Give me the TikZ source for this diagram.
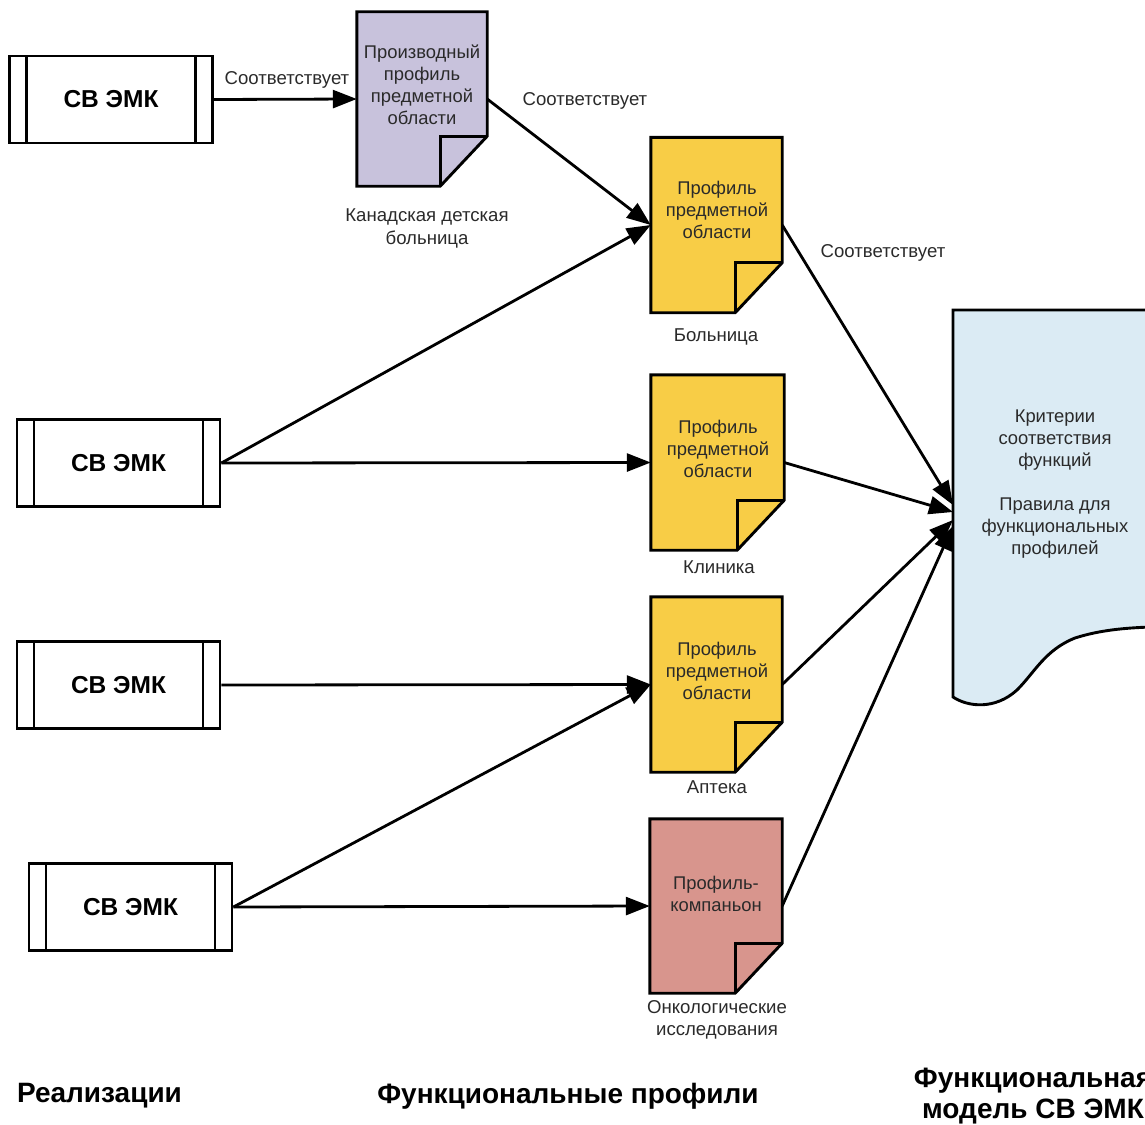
\documentclass[tikz,border=0pt]{standalone}
\usepackage{fontspec}
\setmainfont{Liberation Sans}
\usetikzlibrary{arrows.meta,calc}
\definecolor{docpurple}{HTML}{C8C2DC}
\definecolor{docyellow}{HTML}{F8CD46}
\definecolor{docpink}{HTML}{D8958D}
\definecolor{docblue}{HTML}{DBEBF4}
\definecolor{txtgray}{HTML}{2A2A2A}
\newcommand{\drawdoc}[2]{%
  \draw[docline,fill=#2] (#1.north west) -- (#1.north east) -- ($(#1.south east)+(0,-50)$)
    -- ($(#1.south east)+(-47,0)$) -- (#1.south west) -- cycle;
  \draw[docline] ($(#1.south east)+(-47,0)$) -- ($(#1.south east)+(-47,-50)$) -- ($(#1.south east)+(0,-50)$);
}
\begin{document}
\begin{tikzpicture}[x=1pt,y=-1pt,
  docline/.style={line width=2.9pt,line join=miter,black},
  implbox/.style={draw,line width=2.8pt,rectangle,minimum width=203pt,minimum height=87pt,inner sep=0pt,
    font=\fontsize{24.5}{28}\selectfont\bfseries,
    path picture={\draw[line width=2.8pt]
      ([xshift=17pt]path picture bounding box.north west) -- ([xshift=17pt]path picture bounding box.south west)
      ([xshift=-17pt]path picture bounding box.north east) -- ([xshift=-17pt]path picture bounding box.south east);}},
  docnode/.style={rectangle,draw=none,minimum width=131pt,minimum height=175pt,inner sep=0pt},
  doctext/.style={align=center,text=txtgray,font=\fontsize{18.4}{22}\selectfont},
  lbl/.style={align=center,text=txtgray,font=\fontsize{18.6}{22.5}\selectfont},
  heading/.style={align=center,font=\fontsize{28}{31}\selectfont\bfseries},
  conn/.style={line width=2.8pt,-{Triangle[length=24pt,width=18pt]}}
]
\useasboundingbox (0,0) rectangle (1145,1124);
\clip (0,0) rectangle (1145,1124);

% implementation boxes
\node[implbox] (b1) at (111,99.5) {СВ ЭМК};
\node[implbox] (b2) at (118.5,463) {СВ ЭМК};
\node[implbox] (b3) at (118.5,685) {СВ ЭМК};
\node[implbox] (b4) at (130.5,907) {СВ ЭМК};

% profile documents
\node[docnode,minimum width=130pt,minimum height=174pt] (pd) at (422,99) {};
\node[docnode] (y1) at (716.5,225) {};
\node[docnode,minimum width=133pt] (y2) at (717.5,462.5) {};
\node[docnode] (y3) at (716.5,684.5) {};
\node[docnode,minimum width=132pt,minimum height=174pt] (cp) at (716,906) {};
\drawdoc{pd}{docpurple}
\drawdoc{y1}{docyellow}
\drawdoc{y2}{docyellow}
\drawdoc{y3}{docyellow}
\drawdoc{cp}{docpink}

\node[doctext] (pdt) at (422,84.5) {Производный\\профиль\\предметной\\области};
\node[doctext] (y1t) at (717,210) {Профиль\\предметной\\области};
\node[doctext] (y2t) at (718,449) {Профиль\\предметной\\области};
\node[doctext] (y3t) at (717,671) {Профиль\\предметной\\области};
\node[doctext] (cpt) at (716,893.5) {Профиль-\\компаньон};

% functional model document
\node[rectangle,draw=none,minimum width=250pt,minimum height=390pt] (fm) at (1078,503) {};
\draw[docline,fill=docblue] (953,310) -- (1200,310) -- (1200,626) -- (1150,627)
  .. controls (1125,628) and (1100,630) .. (1075,638)
  .. controls (1045,650) and (1035,672) .. (1017,690)
  .. controls (995,710) and (968,707) .. (953,697) -- cycle;
\node[doctext] (fmt) at (1055,484.5) {Критерии\\соответствия\\функций\\[22pt]Правила для\\функциональных\\профилей};
\coordinate (fmA) at (953,505);
\coordinate (fmB) at (953,512);
\coordinate (fmC) at (953,520);
\coordinate (fmD) at (953,526);

% connectors
\draw[conn] (b1.east) -- (pd.west);
\draw[conn] (pd.east) -- (y1.west);
\draw[conn] (b2.east) -- (y1.west);
\draw[conn] (b2.east) -- (y2.west);
\draw[conn] (b3.east) -- (y3.west);
\draw[conn] (b4.east) -- (y3.west);
\draw[conn] (b4.east) -- (cp.west);
\draw[conn] (y1.east) -- (fmA);
\draw[conn] (y2.east) -- (fmB);
\draw[conn] (y3.east) -- (fmC);
\draw[conn] (cp.east) -- (fmD);

% labels
\node[lbl] (l1) at (287,80) {Соответствует};
\node[lbl] (l2) at (585,101) {Соответствует};
\node[lbl] (l3) at (883,253) {Соответствует};
\node[lbl] (lpd) at (427,228.5) {Канадская детская\\больница};
\node[lbl] (ly1) at (716,337) {Больница};
\node[lbl] (ly2) at (719,567) {Клиника};
\node[lbl] (ly3) at (717,787) {Аптека};
\node[lbl] (lcp) at (717,1020) {Онкологические\\исследования};

% column headings
\node[heading] (h1) at (99.5,1096) {Реализации};
\node[heading] (h2) at (568,1096) {Функциональные профили};
\node[heading] (h3) at (1033,1096.5) {Функциональная\\модель СВ ЭМК};
\end{tikzpicture}
\end{document}
